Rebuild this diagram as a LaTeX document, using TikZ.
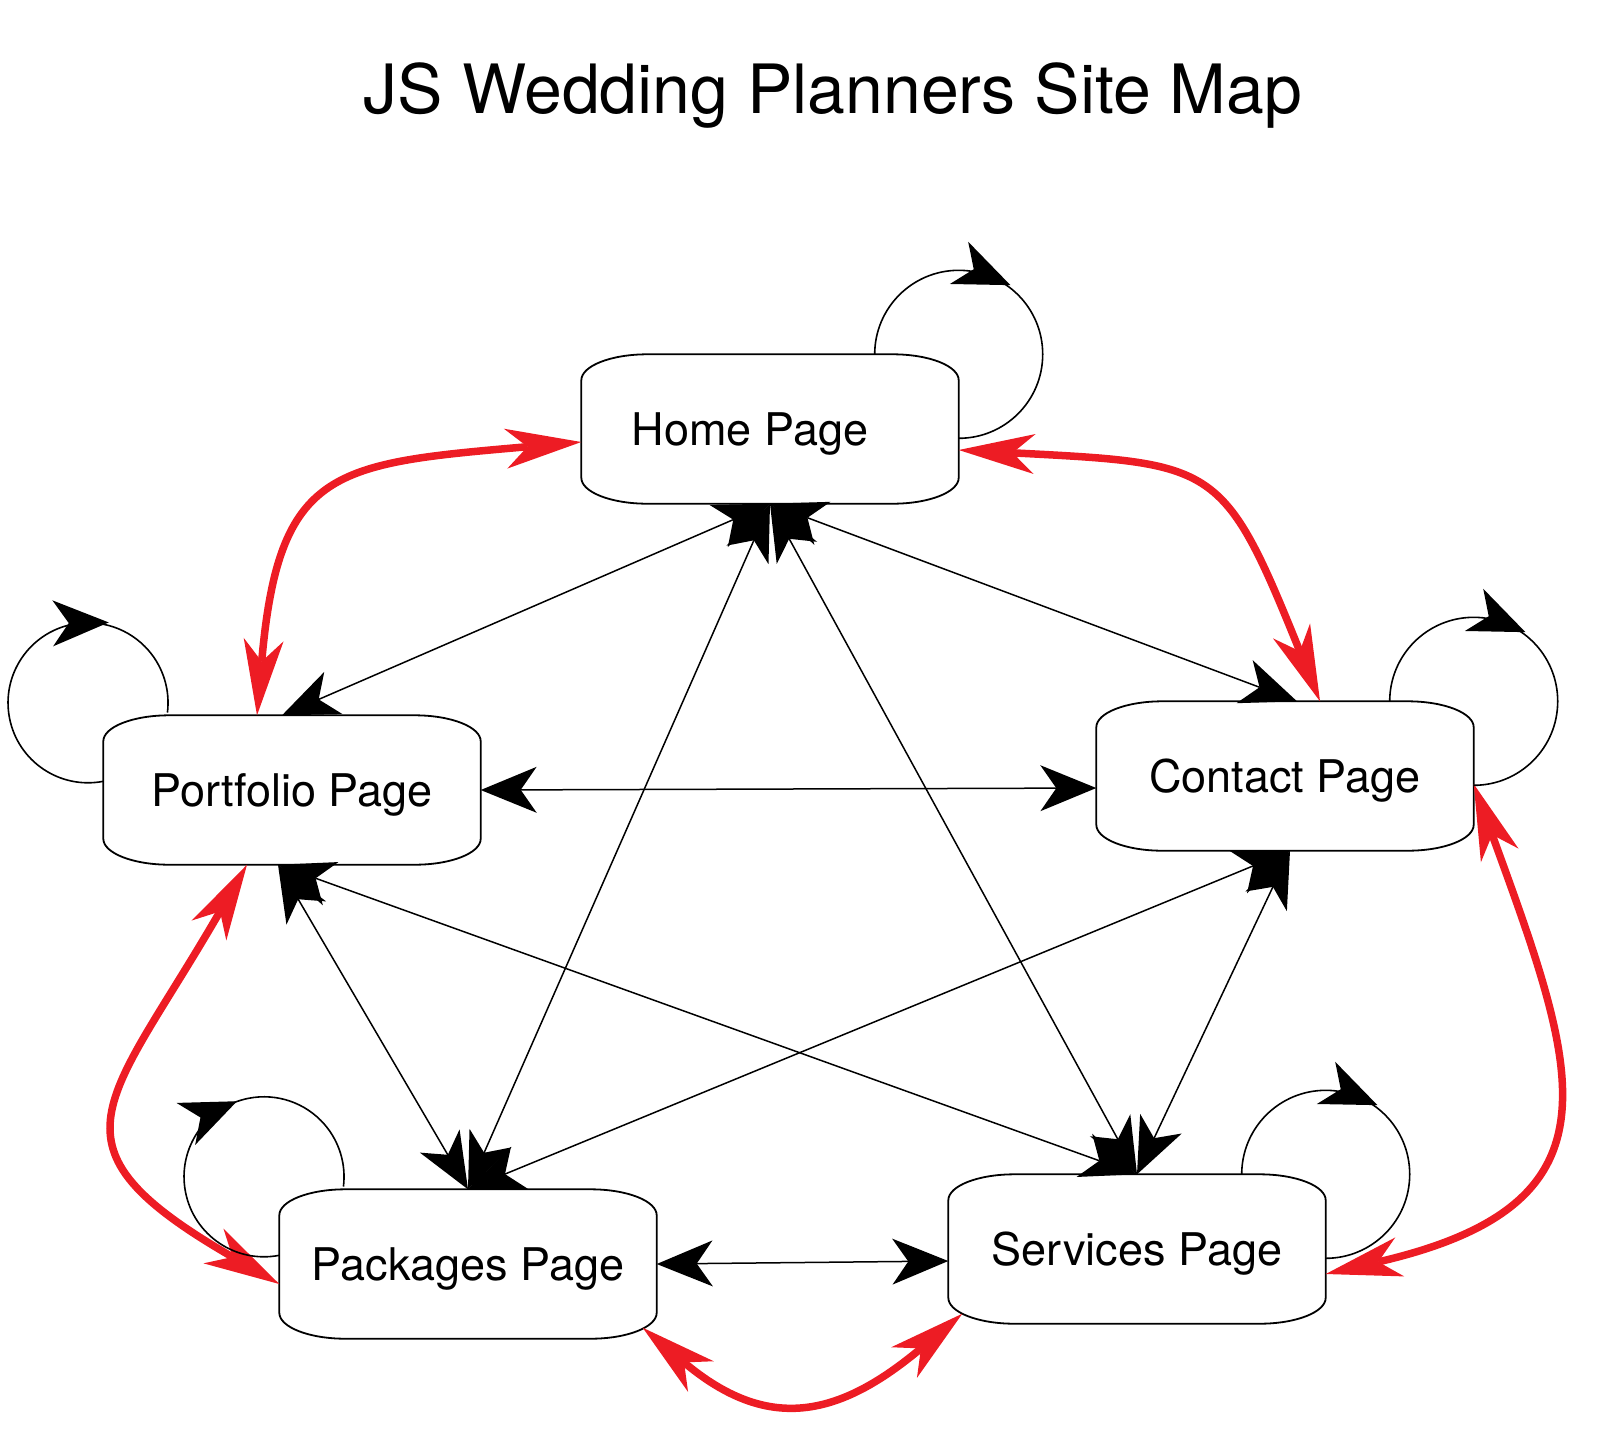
\documentclass[tikz,border=0pt]{standalone}
\usepackage{fontspec}
\setmainfont{TeX Gyre Heros}
\usetikzlibrary{arrows.meta, decorations.markings}
\definecolor{siteRed}{HTML}{ED1C24}

\begin{document}
\begin{tikzpicture}[x=1pt, y=1pt,
    pagebox/.style={minimum width=377pt, minimum height=149pt, inner sep=0pt,
      text height=33pt, text depth=0pt, font=\fontsize{45}{54}\selectfont},
    boxline/.style={line width=1.8pt},
    link/.style={line width=1.5pt, <->, >={Stealth[length=56pt, width=46pt, inset=16pt, line width=0pt]}},
    redlink/.style={line width=7.5pt, draw=siteRed, <->, >={Stealth[length=76pt, width=40pt, inset=22pt, line width=0pt]}},
    selfloop/.style 2 args={line width=1.6pt, postaction={decorate},
      decoration={markings, mark=at position #1 with {\pgftransformxshift{#2}\arrow{Stealth[length=56pt, width=46pt, inset=16pt, line width=0pt]}}}}]
    \useasboundingbox (0,0) rectangle (1613,-1433);

    \node[font=\fontsize{68}{80}\selectfont, anchor=base] (title) at (833,-113) {JS Wedding Planners Site Map};

    \node[pagebox] (home) at (770,-429) {Home Page\hspace*{40pt}};
    \node[pagebox] (portfolio) at (292,-790) {Portfolio Page};
    \node[pagebox] (contact) at (1285,-776) {Contact Page};
    \node[pagebox] (packages) at (468,-1264) {Packages Page};
    \node[pagebox] (services) at (1137,-1249) {Services Page};

    \foreach \n in {home,portfolio,contact,packages,services} {
      \draw[boxline] ([xshift=66pt]\n.north west) -- ([xshift=-66pt]\n.north east)
        arc[start angle=90, end angle=0, x radius=66pt, y radius=26pt]
        -- ([yshift=26pt]\n.south east)
        arc[start angle=0, end angle=-90, x radius=66pt, y radius=26pt]
        -- ([xshift=66pt]\n.south west)
        arc[start angle=270, end angle=180, x radius=66pt, y radius=26pt]
        -- ([yshift=-26pt]\n.north west)
        arc[start angle=180, end angle=90, x radius=66pt, y radius=26pt] -- cycle;
    }

    \draw[link] (home.south) -- ([xshift=-10pt]portfolio.north);
    \draw[link] (home.south) -- (packages.north);
    \draw[link] (home.south) -- (services.north);
    \draw[link] (home.south) -- ([xshift=12pt]contact.north);
    \draw[link] (portfolio.east) -- ([yshift=-12pt]contact.west);
    \draw[link] ([xshift=-14pt]portfolio.south) -- (services.north);
    \draw[link] ([xshift=-14pt]portfolio.south) -- (packages.north);
    \draw[link] ([xshift=5pt]contact.south) -- (packages.north);
    \draw[link] ([xshift=5pt]contact.south) -- (services.north);
    \draw[link] (packages.east) -- ([yshift=-12pt]services.west);

    \draw[redlink] ([yshift=-13pt]home.west) to[out=185, in=85, looseness=1.5] ([xshift=-35pt]portfolio.north);
    \draw[redlink] ([yshift=-21pt]home.east) to[out=-3, in=112, looseness=1.5] ([xshift=35pt]contact.north);
    \draw[redlink] ([yshift=-8pt]contact.east) to[out=-70, in=13, looseness=1.55] ([yshift=-25pt]services.east);
    \draw[redlink] ([shift={(-14pt,11pt)}]packages.south east) to[out=-40, in=-140, looseness=1.3] ([shift={(14pt,10pt)}]services.south west);
    \draw[redlink] ([xshift=-45pt]portfolio.south) to[out=-120, in=150, looseness=1.7] ([yshift=-20pt]packages.west);

    \draw[selfloop={0.42}{20pt}] ([xshift=-84pt]home.north east) arc[start angle=180, end angle=-90, radius=84pt];
    \draw[selfloop={0.42}{20pt}] ([xshift=-84pt]contact.north east) arc[start angle=180, end angle=-90, radius=84pt];
    \draw[selfloop={0.42}{20pt}] ([xshift=-84pt]services.north east) arc[start angle=180, end angle=-90, radius=84pt];
    \draw[selfloop={0.66}{22pt}] ([yshift=-66pt]portfolio.north west) arc[start angle=281, end angle=-7, radius=80pt];
    \draw[selfloop={0.58}{6pt}] ([yshift=-66pt]packages.north west) arc[start angle=281, end angle=-7, radius=80pt];
  \end{tikzpicture}
\end{document}
